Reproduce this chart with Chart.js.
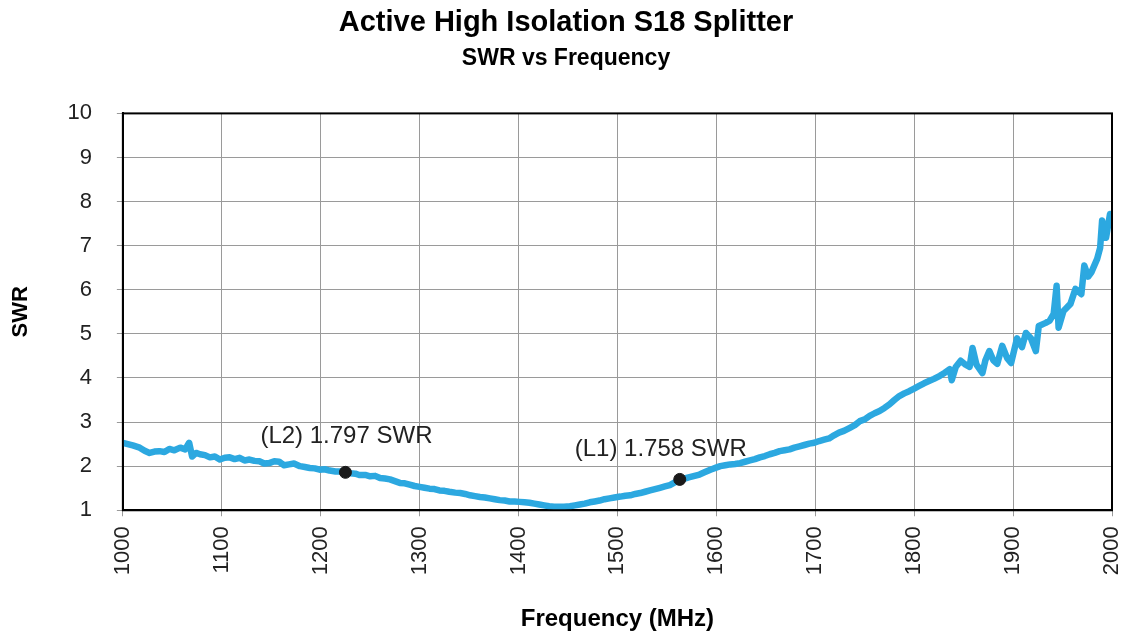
<!DOCTYPE html>
<html>
<head>
<meta charset="utf-8">
<script src="https://cdn.jsdelivr.net/npm/chart.js@4/dist/chart.umd.min.js"></script>
<style>
  html, body { margin: 0; padding: 0; background: #fff; }
  #wrap { width: 1127px; height: 634px; }
</style>
</head>
<body>
<div id="wrap"><canvas id="swrChart"></canvas></div>
<script>
// sweep readings, frequency in MHz
const freqMHz = [
  1000, 1005, 1010, 1017, 1022, 1027, 1032, 1037, 1042, 1047, 1052, 1058, 1063, 1067, 1070, 1074,
  1078, 1083, 1088, 1093, 1098, 1103, 1108, 1113, 1118, 1123, 1128, 1133, 1138, 1143, 1148, 1153,
  1158, 1163, 1168, 1173, 1179, 1184, 1189, 1194, 1199, 1204, 1209, 1215, 1220, 1225, 1230, 1235,
  1239, 1245, 1250, 1255, 1260, 1265, 1270, 1275, 1280, 1285, 1290, 1295, 1300, 1305, 1310, 1315,
  1320, 1325, 1330, 1336, 1341, 1346, 1351, 1356, 1361, 1366, 1371, 1376, 1381, 1386, 1391, 1396,
  1401, 1406, 1411, 1416, 1421, 1426, 1431, 1436, 1441, 1446, 1452, 1457, 1462, 1467, 1472, 1477,
  1482, 1487, 1492, 1497, 1503, 1508, 1513, 1518, 1523, 1528, 1533, 1538, 1543, 1548, 1553, 1558,
  1563, 1568, 1573, 1578, 1583, 1588, 1594, 1599, 1604, 1609, 1614, 1619, 1624, 1629, 1634, 1639,
  1644, 1649, 1654, 1659, 1664, 1669, 1674, 1679, 1684, 1689, 1694, 1699, 1704, 1709, 1714, 1719,
  1724, 1729, 1735, 1740, 1745, 1750, 1755, 1760, 1765, 1770, 1775, 1780, 1785, 1790, 1795, 1800,
  1805, 1810, 1815, 1820, 1826, 1831, 1836, 1838, 1842, 1847, 1852, 1856, 1859, 1863, 1869, 1872,
  1876, 1880, 1884, 1889, 1894, 1898, 1904, 1909, 1913, 1918, 1923, 1926, 1933, 1937, 1941, 1944,
  1946, 1951, 1958, 1963, 1969, 1972, 1976, 1979, 1985, 1988, 1990, 1994, 1998, 2000
]
const swrValues = [
  2.53, 2.50, 2.47, 2.42, 2.35, 2.30, 2.33, 2.34, 2.32, 2.39, 2.36, 2.42, 2.38, 2.53, 2.22, 2.30,
  2.27, 2.25, 2.20, 2.22, 2.15, 2.19, 2.20, 2.16, 2.19, 2.13, 2.15, 2.12, 2.11, 2.06, 2.07, 2.11,
  2.10, 2.02, 2.04, 2.06, 2.00, 1.98, 1.96, 1.95, 1.92, 1.93, 1.90, 1.88, 1.88, 1.86, 1.84, 1.83,
  1.80, 1.80, 1.77, 1.78, 1.73, 1.72, 1.70, 1.66, 1.62, 1.61, 1.58, 1.55, 1.53, 1.51, 1.49, 1.48,
  1.45, 1.44, 1.42, 1.40, 1.39, 1.37, 1.34, 1.32, 1.30, 1.29, 1.27, 1.25, 1.23, 1.22, 1.20, 1.20,
  1.19, 1.18, 1.17, 1.15, 1.13, 1.11, 1.09, 1.08, 1.08, 1.08, 1.09, 1.11, 1.13, 1.15, 1.18, 1.20,
  1.22, 1.25, 1.27, 1.29, 1.31, 1.33, 1.34, 1.37, 1.39, 1.42, 1.45, 1.48, 1.51, 1.54, 1.57, 1.63,
  1.70, 1.72, 1.75, 1.78, 1.81, 1.86, 1.92, 1.96, 2.00, 2.02, 2.04, 2.05, 2.07, 2.10, 2.13, 2.16,
  2.20, 2.23, 2.27, 2.30, 2.34, 2.36, 2.38, 2.42, 2.45, 2.48, 2.51, 2.53, 2.57, 2.60, 2.63, 2.70,
  2.76, 2.80, 2.87, 2.93, 3.02, 3.06, 3.14, 3.20, 3.25, 3.32, 3.40, 3.50, 3.59, 3.65, 3.70, 3.76,
  3.82, 3.88, 3.93, 3.98, 4.05, 4.12, 4.20, 3.95, 4.25, 4.39, 4.30, 4.25, 4.68, 4.30, 4.11, 4.40,
  4.61, 4.40, 4.32, 4.73, 4.45, 4.34, 4.90, 4.70, 5.02, 4.90, 4.61, 5.18, 5.25, 5.30, 5.45, 6.09,
  5.14, 5.52, 5.68, 6.02, 5.90, 6.55, 6.30, 6.39, 6.70, 6.95, 7.57, 7.18, 7.72, 7.55
]

// marker readouts
const markerFreq = [1225, 1563]
const markerSwr = [1.86, 1.70]
const markerText = ['(L2) 1.797 SWR', '(L1) 1.758 SWR']

const xTicks = [1000, 1100, 1200, 1300, 1400, 1500, 1600, 1700, 1800, 1900, 2000]
const yTicks = [1, 2, 3, 4, 5, 6, 7, 8, 9, 10]

const FONT = "'Liberation Sans', Arial, Helvetica, sans-serif"

// frame round the plot + marker captions
const framePlugin = {
  id: 'frame',
  afterDatasetsDraw(chart, args, opts) {
    const { ctx, chartArea } = chart
    const xs = chart.scales.x
    const ys = chart.scales.y
    ctx.save()
    ctx.font = `24px ${FONT}`
    ctx.fillStyle = '#222'
    ctx.textAlign = 'center'
    ctx.textBaseline = 'alphabetic'
    markerText.forEach((t, i) => {
      const off = opts.offsets[i]
      ctx.fillText(t, xs.getPixelForValue(markerFreq[i]) + off[0], ys.getPixelForValue(markerSwr[i]) + off[1])
    })
    ctx.strokeStyle = '#000'
    ctx.lineWidth = 2
    ctx.strokeRect(chartArea.left, chartArea.top, chartArea.right - chartArea.left, chartArea.bottom - chartArea.top)
    ctx.restore()
  }
}

new Chart(document.getElementById('swrChart'), {
  type: 'scatter',
  data: {
    datasets: [
      {
        label: 'Markers',
        data: markerFreq.map((f, i) => ({ x: f, y: markerSwr[i] })),
        showLine: false,
        pointRadius: 6,
        pointBackgroundColor: '#1a1a1a',
        pointBorderColor: '#1a1a1a'
      },
      {
        label: 'SWR',
        data: freqMHz.map((f, i) => ({ x: f, y: swrValues[i] })),
        showLine: true,
        borderColor: '#2ca8e0',
        borderWidth: 6.5,
        borderJoinStyle: 'round',
        borderCapStyle: 'round',
        pointRadius: 0,
        tension: 0
      }
    ]
  },
  options: {
    responsive: true,
    maintainAspectRatio: false,
    animation: false,
    layout: { padding: { left: 8, right: 3, top: 0, bottom: 0 } },
    plugins: {
      legend: { display: false },
      tooltip: { enabled: false },
      title: {
        display: true,
        text: 'Active High Isolation S18 Splitter',
        color: '#000',
        font: { family: FONT, size: 29, weight: 'bold' },
        padding: { top: 6, bottom: 0 }
      },
      subtitle: {
        display: true,
        text: 'SWR vs Frequency',
        color: '#000',
        font: { family: FONT, size: 23, weight: 'bold' },
        padding: { top: 4, bottom: 41 }
      },
      frame: { offsets: [[1, -29], [-19, -23]] }
    },
    scales: {
      x: {
        type: 'linear',
        min: 1000,
        max: 2000,
        afterBuildTicks: axis => { axis.ticks = xTicks.map(v => ({ value: v })) },
        afterFit: axis => { axis.paddingRight = 15 },
        ticks: {
          color: '#222',
          font: { family: FONT, size: 22 },
          maxRotation: 90,
          minRotation: 90,
          padding: 10,
          callback: v => String(v)
        },
        grid: { color: '#9a9a9a', lineWidth: 1, tickLength: 6 },
        border: { color: '#000', width: 2 },
        title: {
          display: true,
          text: 'Frequency (MHz)',
          color: '#000',
          font: { family: FONT, size: 24, weight: 'bold' },
          padding: { top: 20, bottom: 0 }
        }
      },
      y: {
        min: 1,
        max: 10,
        afterBuildTicks: axis => { axis.ticks = yTicks.map(v => ({ value: v })) },
        ticks: {
          color: '#222',
          font: { family: FONT, size: 22 },
          padding: 25
        },
        grid: { color: '#9a9a9a', lineWidth: 1, tickLength: 6 },
        border: { color: '#000', width: 2 },
        title: {
          display: true,
          text: 'SWR',
          color: '#000',
          font: { family: FONT, size: 22, weight: 'bold' },
          padding: { top: 0, bottom: 8 }
        }
      }
    }
  },
  plugins: [framePlugin]
})
</script>
</body>
</html>
